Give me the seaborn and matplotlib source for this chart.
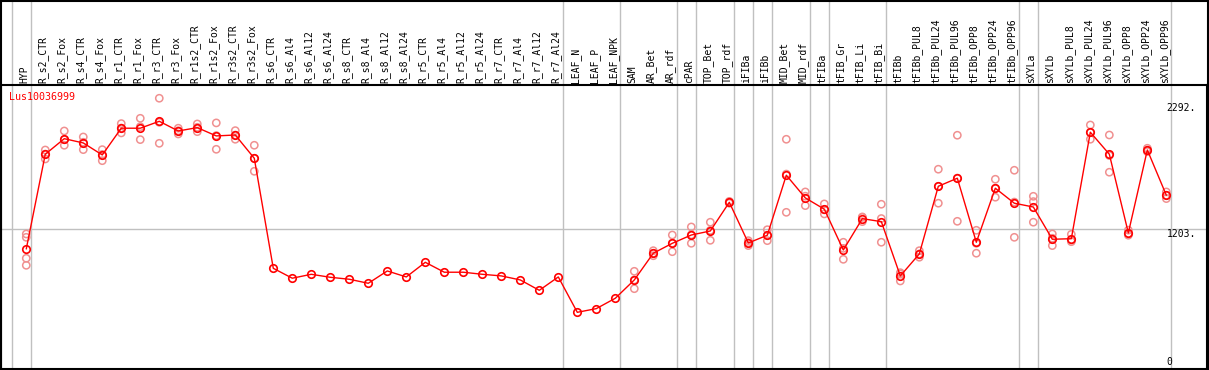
import numpy as np
import pandas as pd
import matplotlib
matplotlib.use("Agg")
import matplotlib.pyplot as plt
import matplotlib.transforms as mtransforms
from matplotlib.patches import Rectangle
import seaborn as sns

# Sample conditions (x axis, top labels)
categories = [
    "HYP", "R_s2_CTR", "R_s2_Fox", "R_s4_CTR", "R_s4_Fox", "R_r1_CTR", "R_r1_Fox",
    "R_r3_CTR", "R_r3_Fox", "R_r1s2_CTR", "R_r1s2_Fox", "R_r3s2_CTR", "R_r3s2_Fox",
    "R_s6_CTR", "R_s6_Al4", "R_s6_Al12", "R_s6_Al24", "R_s8_CTR", "R_s8_Al4",
    "R_s8_Al12", "R_s8_Al24", "R_r5_CTR", "R_r5_Al4", "R_r5_Al12", "R_r5_Al24",
    "R_r7_CTR", "R_r7_Al4", "R_r7_Al12", "R_r7_Al24", "LEAF_N", "LEAF_P", "LEAF_NPK",
    "SAM", "AR_Bet", "AR_rdf", "cPAR", "TOP_Bet", "TOP_rdf", "iFIBa", "iFIBb",
    "MID_Bet", "MID_rdf", "tFIBa", "tFIB_Gr", "tFIB_Li", "tFIB_Bi", "tFIBb",
    "tFIBb_PUL8", "tFIBb_PUL24", "tFIBb_PUL96", "tFIBb_OPP8", "tFIBb_OPP24",
    "tFIBb_OPP96", "sXYLa", "sXYLb", "sXYLb_PUL8", "sXYLb_PUL24", "sXYLb_PUL96",
    "sXYLb_OPP8", "sXYLb_OPP24", "sXYLb_OPP96",
]

# Mean expression per condition
mean_values = [
    1027, 1849, 1984, 1947, 1843, 2075, 2075, 2135, 2051, 2080, 2008, 2016, 1814,
    859, 773, 807, 781, 764, 729, 836, 784, 911, 825, 825, 807, 793, 758, 668, 784,
    477, 509, 599,
    758, 990, 1076, 1148, 1183, 1432, 1079, 1146, 1667, 1470, 1372, 1018, 1290, 1264,
    793, 984, 1571, 1641, 1085, 1554, 1424, 1391, 1111, 1116, 2040, 1849, 1166, 1886, 1493,
]

# Replicate values per condition (empty = not shown)
replicate_values = [
    [1157, 1128, 946, 885],
    [1886, 1850, 1808], [2051, 1975, 1927], [1999, 1953, 1889], [1889, 1847, 1793],
    [2115, 2076, 2034], [2161, 2088, 1976], [2335, 2126, 1944], [2075, 2053, 2025],
    [2112, 2083, 2045], [2121, 2011, 1892], [2054, 2015, 1979], [1927, 1814, 1701],
    [], [], [], [], [], [], [], [], [], [], [], [], [], [], [], [],
    [], [], [],
    [833, 758, 682], [1012, 990, 968], [1148, 1077, 1003], [1218, 1150, 1076],
    [1259, 1188, 1102], [1440, 1432, 1424], [1099, 1082, 1056], [1194, 1145, 1099],
    [1979, 1677, 1345], [1522, 1485, 1403], [1418, 1367, 1331], [1085, 1032, 937],
    [1305, 1301, 1264], [1415, 1291, 1085], [821, 809, 749],
    [1012, 984, 955], [1719, 1570, 1424], [2014, 1642, 1267], [1189, 1076, 990],
    [1632, 1554, 1476], [1710, 1434, 1128],
    [1484, 1438, 1259], [1157, 1120, 1056],
    [1154, 1104, 1090], [2103, 2038, 1979], [2016, 1838, 1693], [1190, 1160, 1146],
    [1901, 1885, 1872], [1522, 1493, 1464],
]

# Last condition index of each tissue group (separator lines)
group_ends = [-1, 0, 28, 31, 34, 35, 37, 38, 39, 41, 42, 45, 52, 53, 60]

gene_name = "Lus10036999"
ref_ticks = [0, 1203, 2292]
ref_tick_labels = ["0", "1203.", "2292."]

pos = np.arange(len(categories))
mean_df = pd.DataFrame({"pos": pos, "value": mean_values})
rep_rows = [(i, v) for i, reps in enumerate(replicate_values) for v in reps]
rep_df = pd.DataFrame(rep_rows, columns=["pos", "value"])

sns.set_style("white")
plt.rcParams["font.family"] = ["DejaVu Sans Mono"]

W, H = 1209, 370
fig = plt.figure(figsize=(W / 100, H / 100), dpi=100)
ax = fig.add_axes([1 / W, 1 / H, 1206 / W, 284 / H])

# Separator lines through the plot and label band
for g in group_ends:
    ax.axvline(g + 0.23, ymin=0, ymax=369 / 284, clip_on=False,
               color="#c0c0c0", lw=1, zorder=0)
ax.axhline(1203, color="#c0c0c0", lw=1, zorder=0)

sns.scatterplot(data=rep_df, x="pos", y="value", ax=ax, marker="o", s=27,
                color="#f09090", linewidth=1.1, zorder=2, legend=False)
ax.collections[-1].set_facecolor("none")
ax.collections[-1].set_edgecolor("#f09090")

sns.lineplot(data=mean_df, x="pos", y="value", ax=ax, color="red", lw=1,
             marker="o", markersize=5.4, markerfacecolor="none",
             markeredgecolor="red", markeredgewidth=1.2, zorder=3)

ax.set_xlim(-1.33, 62.14)
ax.set_ylim(-15, 2450)

# Condition labels along the top
ax.xaxis.tick_top()
ax.set_xticks(pos)
ax.set_xticklabels(categories, rotation=90, fontsize=7, va="bottom", ha="center")
ax.tick_params(axis="x", length=0, pad=1.5, labelcolor="black")
shift = mtransforms.ScaledTranslation(-2 / 100, 0, fig.dpi_scale_trans)
for lab in ax.get_xticklabels():
    lab.set_transform(lab.get_transform() + shift)

# Reference values on the right, inside the frame
ax.yaxis.tick_right()
ax.set_yticks(ref_ticks)
ax.set_yticklabels(ref_tick_labels, fontsize=7)
ax.tick_params(axis="y", length=0, pad=-29, labelcolor="black")
for lab, t in zip(ax.get_yticklabels(), ref_ticks):
    lab.set_ha("left")
    lab.set_va("bottom" if t == 0 else "top")

ax.set_xlabel("")
ax.set_ylabel("")
ax.text(0.0069, 0.958, gene_name, transform=ax.transAxes, color="red",
        fontsize=7.2, va="center", ha="left")

for sp in ax.spines.values():
    sp.set_color("black")
    sp.set_linewidth(1.5)

fig.patches.append(Rectangle((0.5 / W, 0.5 / H), 1207 / W, 1 - 1 / H,
                             transform=fig.transFigure, fill=False,
                             ec="black", lw=1.5))

fig.savefig("out.png", dpi=100)
